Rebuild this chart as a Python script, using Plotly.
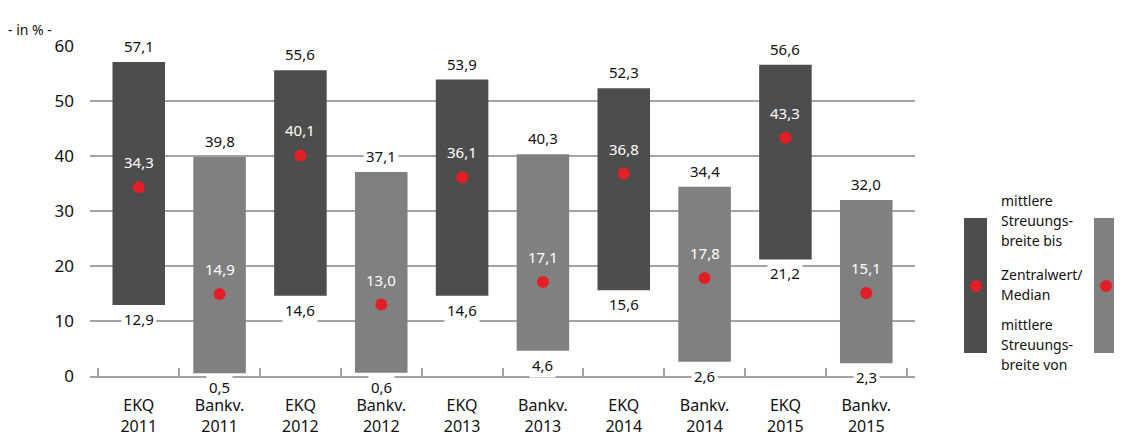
import plotly.graph_objects as go

categories = ["EKQ<br>2011", "Bankv.<br>2011", "EKQ<br>2012", "Bankv.<br>2012", "EKQ<br>2013",
              "Bankv.<br>2013", "EKQ<br>2014", "Bankv.<br>2014", "EKQ<br>2015", "Bankv.<br>2015"]
upper = [57.1, 39.8, 55.6, 37.1, 53.9, 40.3, 52.3, 34.4, 56.6, 32.0]
lower = [12.9, 0.5, 14.6, 0.6, 14.6, 4.6, 15.6, 2.6, 21.2, 2.3]
median = [34.3, 14.9, 40.1, 13.0, 36.1, 17.1, 36.8, 17.8, 43.3, 15.1]
kinds = ["EKQ", "Bankv.", "EKQ", "Bankv.", "EKQ", "Bankv.", "EKQ", "Bankv.", "EKQ", "Bankv."]

DARK = "#4d4d4d"
LIGHT = "#808080"
RED = "#e31e26"
GRID = "#a3a3a3"
FONT = "Noto Sans"

def fmt(v):
    return f"{v:.1f}".replace(".", ",")

colors = [DARK if k == "EKQ" else LIGHT for k in kinds]

fig = go.Figure()
fig.add_trace(go.Bar(
    x=categories, y=[u - l for u, l in zip(upper, lower)], base=lower,
    marker=dict(color=colors, line=dict(width=0)), width=0.65,
    hoverinfo="skip", showlegend=False))
fig.add_trace(go.Scatter(
    x=categories, y=median, mode="markers",
    marker=dict(color=RED, size=12), showlegend=False, hoverinfo="skip"))

annotations = []
for c, u, l, m in zip(categories, upper, lower, median):
    annotations.append(dict(x=c, y=u, text=fmt(u), showarrow=False, yshift=16,
                            bgcolor="white", borderpad=2,
                            font=dict(family=FONT, size=15, color="#111")))
    annotations.append(dict(x=c, y=l, text=fmt(l), showarrow=False, yshift=-14,
                            bgcolor="white", borderpad=2,
                            font=dict(family=FONT, size=15, color="#111")))
    annotations.append(dict(x=c, y=m, text=fmt(m), showarrow=False, yshift=25,
                            font=dict(family=FONT, size=15, color="white")))

# page pixel -> paper coordinates (page has an 8px body margin)
def px_x(p):
    return (p - 90) / 825

def px_y(p):
    return (376 - p) / 330

annotations.append(dict(xref="paper", yref="paper", x=px_x(6), y=px_y(18),
                        text="- in % -", showarrow=False, xanchor="left",
                        font=dict(family=FONT, size=14, color="#111")))

legend_lines = [("mittlere", 200), ("Streuungs-", 220), ("breite bis", 240),
                ("Zentralwert/", 286), ("Median", 306),
                ("mittlere", 336), ("Streuungs-", 356), ("breite von", 376)]
for t, py in legend_lines:
    annotations.append(dict(xref="paper", yref="paper", x=px_x(999), y=px_y(py),
                            text=t, showarrow=False, xanchor="left",
                            font=dict(family=FONT, size=14, color="#111")))

shapes = [
    dict(type="rect", xref="paper", yref="paper", x0=px_x(964), x1=px_x(987),
         y0=px_y(353), y1=px_y(218), fillcolor=DARK, line=dict(width=0)),
    dict(type="rect", xref="paper", yref="paper", x0=px_x(1094), x1=px_x(1117),
         y0=px_y(353), y1=px_y(218), fillcolor=LIGHT, line=dict(width=0)),
    dict(type="circle", xref="paper", yref="paper", x0=px_x(970), x1=px_x(982),
         y0=px_y(292), y1=px_y(280), fillcolor=RED, line=dict(width=0)),
    dict(type="circle", xref="paper", yref="paper", x0=px_x(1100), x1=px_x(1112),
         y0=px_y(292), y1=px_y(280), fillcolor=RED, line=dict(width=0)),
]

fig.update_layout(
    width=1114, height=428,
    margin=dict(l=82, r=207, t=38, b=60, autoexpand=False),
    paper_bgcolor="white", plot_bgcolor="white",
    font=dict(family=FONT, size=16, color="#111"),
    barmode="overlay",
    annotations=annotations, shapes=shapes,
    xaxis=dict(type="category", showgrid=False, zeroline=False,
               showline=True, linecolor=GRID, linewidth=2,
               ticks="inside", tickson="boundaries", ticklen=8,
               tickcolor=GRID, tickwidth=2, ticklabelstandoff=14,
               tickfont=dict(family=FONT, size=16, color="#111")),
    yaxis=dict(range=[0, 60], tickvals=[0, 10, 20, 30, 40, 50, 60],
               showgrid=True, gridcolor=GRID, gridwidth=2,
               zeroline=False, showline=False, ticks="",
               ticklabelstandoff=15,
               tickfont=dict(family=FONT, size=17, color="#111")),
)

fig.write_html("out.html")
